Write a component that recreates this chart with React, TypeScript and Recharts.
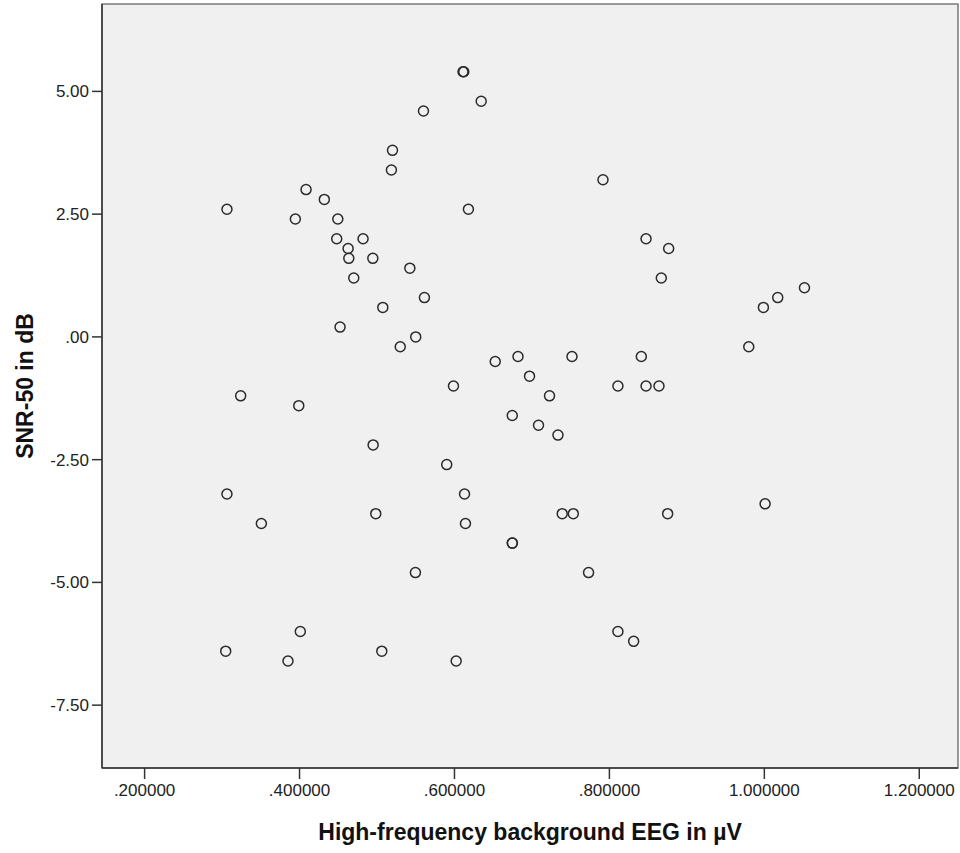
import React from "react";
import {
  ScatterChart,
  Scatter,
  XAxis,
  YAxis,
  ReferenceArea,
} from "recharts";

// High-frequency background EEG (µV) and SNR-50 (dB)
const eegValues = [
  0.611, 0.612, 0.6345, 0.56, 0.52, 0.5186, 0.7917, 0.4084, 0.432, 0.3063,
  0.3946, 0.4494, 0.618, 0.448, 0.482, 0.4627, 0.4636, 0.4946, 0.47, 0.5424,
  0.5612, 0.5075, 0.4523, 0.55, 0.53, 0.8473, 0.8765, 0.867, 1.0518, 1.0173,
  0.9988, 0.9799, 0.6526, 0.682, 0.6969, 0.7517, 0.8412, 0.811, 0.8473, 0.864,
  0.5987, 0.7227, 0.6746, 0.7085, 0.7336, 0.324, 0.399, 0.495, 0.59, 0.3063,
  0.613, 0.3507, 0.4984, 0.6142, 0.6746, 0.6748, 0.7391, 0.7534, 0.8752, 1.001,
  0.5496, 0.7731, 0.3047, 0.3851, 0.401, 0.5062, 0.6022, 0.811, 0.8313,
];

const snrValues = [
  5.4, 5.4, 4.8, 4.6, 3.8, 3.4, 3.2, 3.0, 2.8, 2.6,
  2.4, 2.4, 2.6, 2.0, 2.0, 1.8, 1.6, 1.6, 1.2, 1.4,
  0.8, 0.6, 0.2, 0.0, -0.2, 2.0, 1.8, 1.2, 1.0, 0.8,
  0.6, -0.2, -0.5, -0.4, -0.8, -0.4, -0.4, -1.0, -1.0, -1.0,
  -1.0, -1.2, -1.6, -1.8, -2.0, -1.2, -1.4, -2.2, -2.6, -3.2,
  -3.2, -3.8, -3.6, -3.8, -4.2, -4.2, -3.6, -3.6, -3.6, -3.4,
  -4.8, -4.8, -6.4, -6.6, -6.0, -6.4, -6.6, -6.0, -6.2,
];

const xTicks = [0.2, 0.4, 0.6, 0.8, 1.0, 1.2];
const yTicks = [5, 2.5, 0, -2.5, -5, -7.5];
const xDomain: [number, number] = [0.145, 1.25];
const yDomain: [number, number] = [-8.78, 6.78];

const data = eegValues.map((x, i) => ({ x, y: snrValues[i] }));

// SPSS style: drop the leading zero
const spss = (v: number, digits: number) => {
  const s = v.toFixed(digits);
  if (s.startsWith("0.")) return s.slice(1);
  if (s.startsWith("-0.")) return "-" + s.slice(2);
  return s;
};

const FONT = "Arial, 'Liberation Sans', sans-serif";

const Ring = (props: any) => {
  const { cx, cy } = props;
  if (cx == null || cy == null) return null;
  return <circle cx={cx} cy={cy} r={5} fill="none" stroke="#2b2b2b" strokeWidth={1.5} />;
};

const XTitle = (props: any) => {
  const vb = props.viewBox;
  return (
    <text
      x={vb.x + vb.width / 2}
      y={vb.y + 72}
      textAnchor="middle"
      fontFamily={FONT}
      fontWeight="bold"
      fontSize={23}
      fill="#111"
    >
      High-frequency background EEG in µV
    </text>
  );
};

const YTitle = (props: any) => {
  const vb = props.viewBox;
  const cy = vb.y + vb.height / 2;
  return (
    <text
      x={33}
      y={cy}
      transform={`rotate(-90, 33, ${cy})`}
      textAnchor="middle"
      fontFamily={FONT}
      fontWeight="bold"
      fontSize={23}
      fill="#111"
    >
      SNR-50 in dB
    </text>
  );
};

export default function App() {
  return (
    <div style={{ position: "absolute", left: 0, top: 0, width: 960, height: 853, background: "#fff" }}>
      <ScatterChart width={960} height={853} margin={{ top: 4, right: 2, bottom: 0, left: 0 }}>
        <ReferenceArea
          x1={xDomain[0]}
          x2={xDomain[1]}
          y1={yDomain[0]}
          y2={yDomain[1]}
          fill="#f0f0f0"
          fillOpacity={1}
          stroke="#7a7a7a"
          strokeWidth={1.5}
          ifOverflow="visible"
        />
        <XAxis
          type="number"
          dataKey="x"
          domain={xDomain}
          ticks={xTicks}
          allowDataOverflow
          height={85}
          tickSize={11}
          tickMargin={5}
          tickFormatter={(v: number) => spss(v, 6)}
          axisLine={{ stroke: "#333", strokeWidth: 1.5 }}
          tickLine={{ stroke: "#333", strokeWidth: 1.5 }}
          tick={{ fontSize: 17, fontFamily: FONT, fill: "#222" }}
          label={<XTitle />}
        />
        <YAxis
          type="number"
          dataKey="y"
          domain={yDomain}
          ticks={yTicks}
          allowDataOverflow
          width={102}
          tickSize={10}
          tickMargin={3}
          tickFormatter={(v: number) => spss(v, 2)}
          axisLine={{ stroke: "#333", strokeWidth: 1.5 }}
          tickLine={{ stroke: "#333", strokeWidth: 1.5 }}
          tick={{ fontSize: 17, fontFamily: FONT, fill: "#222" }}
          label={<YTitle />}
        />
        <Scatter data={data} shape={<Ring />} isAnimationActive={false} />
      </ScatterChart>
    </div>
  );
}
